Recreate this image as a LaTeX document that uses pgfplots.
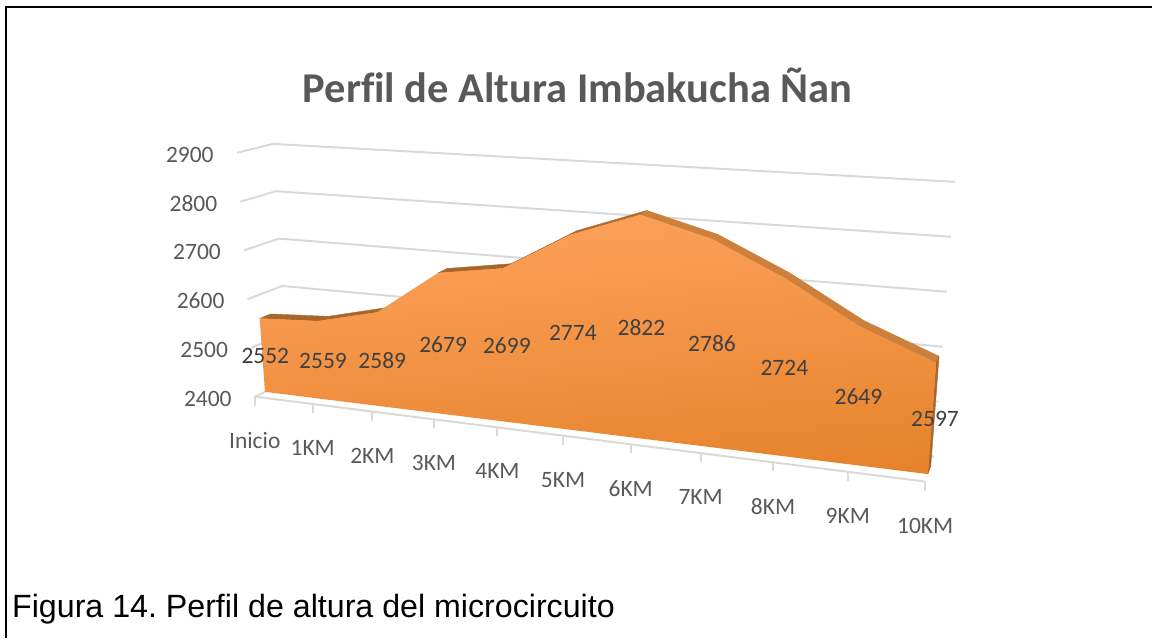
\documentclass[border=0pt]{standalone}
\usepackage{pgfplots}
\usepackage{pgfplotstable}
\usepackage{fontspec}
\pgfplotsset{compat=1.18}
\setmainfont{Liberation Sans}
\newfontfamily\carl[Ligatures=NoCommon]{Carlito}
\definecolor{gridc}{HTML}{D9D9D9}
\definecolor{txtc}{HTML}{595959}
\definecolor{lblc}{HTML}{404040}
\definecolor{areatop}{HTML}{FEA25C}
\definecolor{areamid}{HTML}{FE9A42}
\definecolor{areabot}{HTML}{E6832C}

% profile: first and last rows close the area on the floor (2400)
\pgfplotstableread{
i v
0 2400
0 2552
1 2559
2 2589
3 2679
4 2699
5 2774
6 2822
7 2786
8 2724
9 2649
10 2597
10 2400
}\profile

\pgfplotstableread{
i cat
0 Inicio
1 1KM
2 2KM
3 3KM
4 4KM
5 5KM
6 6KM
7 7KM
8 8KM
9 9KM
10 10KM
}\cats

\pgfplotstableread{
i v
0 2400
0 2500
0 2600
0 2700
0 2800
0 2900
}\levels

\pgfplotstableread{
i d
0 0
0 1
10 1
}\wall

% the top and the side of the 3-D band, quad by quad
\pgfplotstableread{
i v d c
0 2552 0.3 0
1 2559 0.3 0
1 2559 0.62 0
0 2552 0.62 0
1 2559 0.3 0
2 2589 0.3 0
2 2589 0.62 0
1 2559 0.62 0
3 2679 0.3 0
4 2699 0.3 0
4 2699 0.62 0
3 2679 0.62 0
4 2699 0.3 0
5 2774 0.3 0
5 2774 0.62 0
4 2699 0.62 0
5 2774 0.3 0.2
6 2822 0.3 0.2
6 2822 0.62 0.2
5 2774 0.62 0.2
6 2822 0.3 1
7 2786 0.3 1
7 2786 0.62 1
6 2822 0.62 1
7 2786 0.3 1
8 2724 0.3 1
8 2724 0.62 1
7 2786 0.62 1
8 2724 0.3 1
9 2649 0.3 1
9 2649 0.62 1
8 2724 0.62 1
9 2649 0.3 1
10 2597 0.3 1
10 2597 0.62 1
9 2649 0.62 1
10 2400 0.3 0
10 2597 0.3 0
10 2597 0.62 0
10 2400 0.62 0
}\band

\begin{document}
\frenchspacing
\begin{tikzpicture}
\begin{axis}[
  x=1pt, y=1pt, scale only axis,
  xmin=0, xmax=1153, ymin=0, ymax=639, y dir=reverse,
  hide axis, clip=false,
  declare function={
    tt(\i)=0.851*\i/10/(1-0.0149*\i);
    pxa(\t,\d)=(1-\d)*((1-\t)*255+\t*926)+\d*((1-\t)*289+\t*935);
    pxb(\t,\d)=(1-\d)*((1-\t)*237+\t*947)+\d*((1-\t)*273+\t*956);
    pya(\t,\d)=(1-\d)*((1-\t)*397+\t*482)+\d*((1-\t)*381+\t*457);
    pyb(\t,\d)=(1-\d)*((1-\t)*153+\t*196)+\d*((1-\t)*144+\t*182);
    px(\i,\v,\d)=(1-(\v-2400)/500)*pxa(tt(\i),\d)+((\v-2400)/500)*pxb(tt(\i),\d);
    py(\i,\v,\d)=(1-(\v-2400)/500)*pya(tt(\i),\d)+((\v-2400)/500)*pyb(tt(\i),\d);
  },
  colormap={topface}{rgb255(0)=(169,102,43) rgb255(1)=(204,128,60)},
  point meta min=0, point meta max=1,
]
\path (axis cs:0,0) rectangle (axis cs:1153,639);

% gridlines on side wall and back wall
\pgfplotsinvokeforeach{2400,2500,2600,2700,2800,2900}{
  \addplot[gridc, line width=2pt, line join=round, mark=none]
    table[x expr={px(\thisrow{i},#1,\thisrow{d})}, y expr={py(\thisrow{i},#1,\thisrow{d})}] {\wall};
}
% floor edges
\addplot[gridc, line width=2pt, mark=none]
  table[x expr={px(\thisrow{i},2400,0)}, y expr={py(\thisrow{i},2400,0)}] {\cats};
% tick marks
\pgfplotsinvokeforeach{0,...,10}{
  \addplot[gridc, line width=2pt, mark=none] coordinates {
    ({px(#1,2400,0)},{py(#1,2400,0)}) ({px(#1,2400,0)},{py(#1,2400,0)+9})};
}

% band top
\addplot[patch, patch type=rectangle, shader=flat, point meta=explicit]
  table[x expr={px(\thisrow{i},\thisrow{v},\thisrow{d})}, y expr={py(\thisrow{i},\thisrow{v},\thisrow{d})}, meta=c] {\band};

% front face
\addplot[draw=none, top color=areatop, middle color=areamid, bottom color=areabot, shading angle=5]
  table[x expr={px(\thisrow{i},\thisrow{v},0.3)}, y expr={py(\thisrow{i},\thisrow{v},0.3)}] {\profile} -- cycle;

% value labels, half way up the face
\addplot[draw=none, mark=none, point meta=explicit symbolic,
  skip coords between index={0}{1}, skip coords between index={12}{13},
  nodes near coords,
  every node near coord/.append style={anchor=center, inner sep=0pt, text=lblc, font=\carl\fontsize{23.5}{24}\selectfont}]
  table[x expr={px(\thisrow{i},(\thisrow{v}+2400)/2,0.3)+3}, y expr={py(\thisrow{i},(\thisrow{v}+2400)/2,0.3)+1}, meta=v] {\profile};

% category labels
\addplot[draw=none, mark=none, point meta=explicit symbolic,
  nodes near coords,
  every node near coord/.append style={anchor=center, inner sep=0pt, text=txtc, font=\carl\fontsize{23.5}{24}\selectfont}]
  table[x expr={px(\thisrow{i},2400,0)}, y expr={py(\thisrow{i},2400,0)+44}, meta=cat] {\cats};

% value-axis labels
\addplot[draw=none, mark=none, point meta=explicit symbolic,
  nodes near coords,
  every node near coord/.append style={anchor=center, inner sep=0pt, text=txtc, font=\carl\fontsize{23.5}{24}\selectfont}]
  table[x expr={px(\thisrow{i},\thisrow{v},0)-47}, y expr={py(\thisrow{i},\thisrow{v},0)+2}, meta=v] {\levels};

% frame, title, caption
\draw[black, line width=2pt] (axis cs:6.5,639) -- (axis cs:6.5,7.5) -- (axis cs:1153,7.5);
\node[text=txtc, font=\carl\bfseries\fontsize{42.5}{46}\selectfont, anchor=center] at (axis cs:578,85) {Perfil de Altura Imbakucha Ñan};
\node[text=black, font=\fontsize{32.2}{34}\selectfont, anchor=base west, inner sep=0pt] at (axis cs:12,618) {Figura 14. Perfil de altura del microcircuito};
\end{axis}
\end{tikzpicture}
\end{document}
